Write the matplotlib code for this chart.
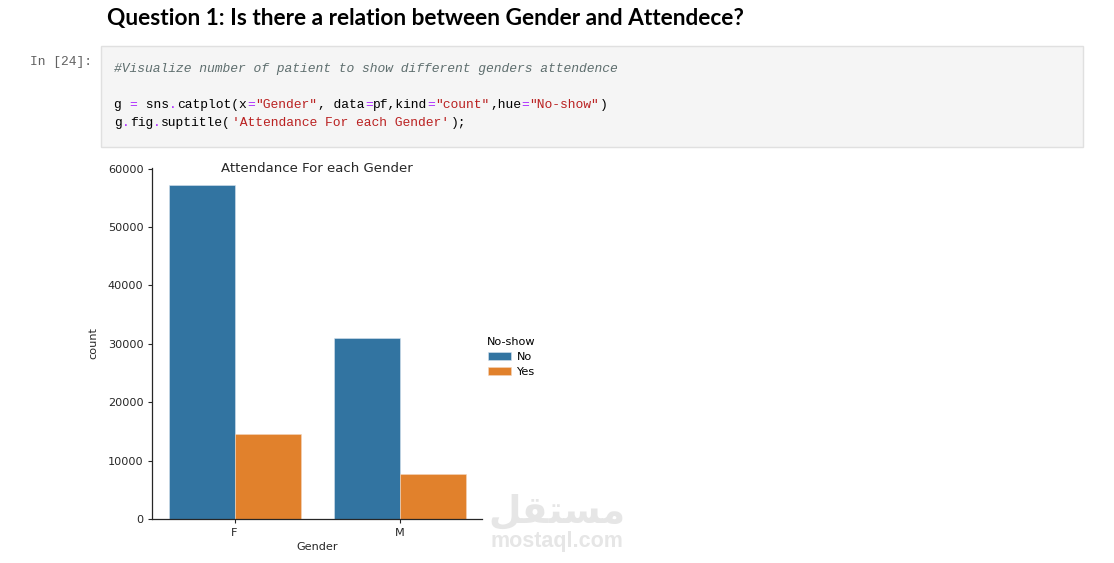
import numpy as np
import matplotlib
matplotlib.use("Agg")
import matplotlib.pyplot as plt
from matplotlib.patches import Rectangle

# counts
genders = ["F", "M"]
no_show_levels = ["No", "Yes"]
count_no = [57246, 30962]
count_yes = [14594, 7725]
y_ticks = [0, 10000, 20000, 30000, 40000, 50000, 60000]

W, H = 1114, 563
fig = plt.figure(figsize=(W / 100, H / 100), dpi=100)
fig.patch.set_facecolor("white")


def fx(x):
    return x / W


def fy(y):
    return 1 - y / H


# notebook header
header = fig.text(fx(107), fy(18), "Question 1: Is there a relation between Gender and Attendece?",
                  fontsize=14, fontweight="bold", family="Lato", color="#000000",
                  va="center", ha="left")
fig.canvas.draw()
bb = header.get_window_extent()
header.set_fontsize(14 * 641 / bb.width)

# prompt
fig.text(fx(30), fy(62), "In [24]:", family="Liberation Mono", fontsize=9.4,
         color="#616161", va="center", ha="left")

# code cell box
fig.patches.append(Rectangle((fx(101), fy(147)), fx(1083) - fx(101), fy(46) - fy(147),
                             transform=fig.transFigure, facecolor="#f5f5f5",
                             edgecolor="#e0e0e0", linewidth=1, zorder=0))

cw = 7.84
x0 = 114


def code_line(y, parts, italic=False):
    n = 0
    for txt, col in parts:
        fig.text(fx(x0 + n * cw), fy(y), txt, family="Liberation Mono", fontsize=9.4,
                 color=col, va="center", ha="left",
                 style="italic" if italic else "normal")
        n += len(txt)


K, S, O = "#000000", "#ba2121", "#aa22ff"
code_line(69, [("#Visualize number of patient to show different genders attendence", "#5e6e6e")],
          italic=True)
code_line(105, [("g ", K), ("=", O), (" sns", K), (".", O), ("catplot(x", K), ("=", O),
                ('"Gender"', S), (", data", K), ("=", O), ("pf,kind", K), ("=", O),
                ('"count"', S), (",hue", K), ("=", O), ('"No-show"', S), (")", K)])
code_line(123, [("g", K), (".", O), ("fig", K), (".", O), ("suptitle(", K),
                ("'Attendance For each Gender'", S), (");", K)])

# chart
ax = fig.add_axes([fx(152), fy(519), fx(482) - fx(152), fy(168) - fy(519)])
x = np.arange(len(genders))
w = 0.4
ax.bar(x - w / 2, count_no, w, color="#3274a1", edgecolor="#d8e3ee", linewidth=0.4, label=no_show_levels[0])
ax.bar(x + w / 2, count_yes, w, color="#e1812c", edgecolor="#f3d6bd", linewidth=0.4, label=no_show_levels[1])
ax.set_xlim(-0.5, 1.5)
ax.set_ylim(0, 60108)
ax.set_xticks(x)
ax.set_xticklabels(genders)
ax.set_yticks(y_ticks)
ax.tick_params(labelsize=8.1, colors="#262626", length=3.2, width=0.8, pad=3)
for s in ["top", "right"]:
    ax.spines[s].set_visible(False)
for s in ["left", "bottom"]:
    ax.spines[s].set_color("#262626")
    ax.spines[s].set_linewidth(0.9)
ax.set_xlabel("Gender", fontsize=8.1, color="#262626", labelpad=3)
ax.set_ylabel("count", fontsize=8.1, color="#262626", labelpad=7)

fig.text(fx(317), fy(168), "Attendance For each Gender", fontsize=9.5, color="#262626",
         ha="center", va="center")

leg = fig.legend(loc="center left", bbox_to_anchor=(fx(477), fy(357)), frameon=False,
                 title="No-show", fontsize=8.1, title_fontsize=8.1,
                 handlelength=2.0, handletextpad=0.5, labelspacing=0.45)

# watermark
fig.text(fx(557), fy(512), "\uFEDE\uFED8\uFE98\uFEB4\uFEE3", family="DejaVu Sans",
         fontweight="bold", fontsize=27, color="#e6e6e6", ha="center", va="center", zorder=5)
fig.text(fx(557), fy(541), "mostaql.com", family="Liberation Sans", fontweight="bold",
         fontsize=15.5, color="#e6e6e6", ha="center", va="center", zorder=5)

fig.savefig("out.png", dpi=100)
